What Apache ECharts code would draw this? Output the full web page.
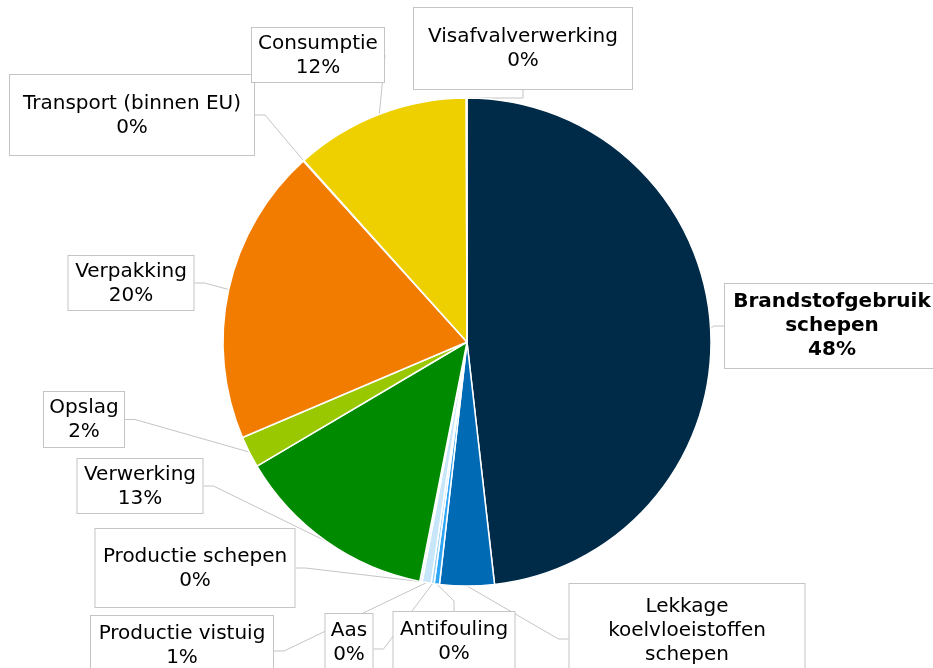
<!DOCTYPE html>
<html>
<head>
<meta charset="utf-8">
<script src="https://cdn.jsdelivr.net/npm/echarts@6/dist/echarts.min.js"></script>
<style>
  html, body { margin: 0; padding: 0; background: #fff; }
  #chart { width: 933px; height: 668px; }
</style>
</head>
<body>
<div id="chart"></div>
<script>
// slices, clockwise from 12 o'clock
const categories = [
  "Brandstofgebruik\nschepen",
  "Lekkage\nkoelvloeistoffen\nschepen",
  "Antifouling",
  "Aas",
  "Productie vistuig",
  "Productie schepen",
  "Verwerking",
  "Opslag",
  "Verpakking",
  "Transport (binnen EU)",
  "Consumptie",
  "Visafvalverwerking",
];
// share of total (%)
const shares = [48.2, 3.6, 0.35, 0.2, 0.6, 0.15, 13.4, 2.1, 19.7, 0.05, 11.6, 0.05];

const colors = [
  "#002b48", "#006ab4", "#2ea6f5", "#95d0f6", "#c8e6fa", "#e2f1fc",
  "#008a00", "#9ac800", "#f27c00", "#e05a00", "#eed000", "#1a3a5a",
];

// callout boxes: [centerX, top, width, height, padTop]
const labelBoxes = [
  [832, 284, 214, 84, 6],
  [687, 584, 235, 110, 11],
  [454, 612, 121, 70, 6],
  [349, 614, 47, 70, 5],
  [182, 616, 182, 70, 6],
  [195, 529, 199, 78, 16],
  [140, 459, 125, 54, 4],
  [84, 392, 80, 55, 4],
  [131, 256, 125, 54, 4],
  [132, 75, 244, 80, 17],
  [318, 28, 132, 54, 4],
  [523, 8, 218, 81, 17],
];

const LINE_H = 24;

const chart = echarts.init(document.getElementById("chart"));

const data = categories.map((name, i) => {
  const box = labelBoxes[i];
  const lines = name.split("\n").length + 1;
  const padBottom = Math.max(box[3] - box[4] - lines * LINE_H, 2);
  return {
    name: name,
    value: shares[i],
    itemStyle: { color: colors[i] },
    label: {
      width: box[2],
      padding: [box[4], 0, padBottom, 0],
      fontWeight: i === 0 ? "bold" : "normal",
    },
  };
});

chart.setOption({
  animation: false,
  series: [
    {
      type: "pie",
      center: [467, 342],
      radius: 244,
      startAngle: 90,
      clockwise: true,
      avoidLabelOverlap: false,
      minShowLabelAngle: 0,
      data: data,
      itemStyle: {
        borderColor: "#fff",
        borderWidth: 1.5,
      },
      emphasis: { disabled: true },
      label: {
        show: true,
        position: "outside",
        formatter: (p) => p.name + "\n" + Math.round(p.percent) + "%",
        fontFamily: "DejaVu Sans",
        fontSize: 20,
        lineHeight: LINE_H,
        color: "#000",
        align: "center",
        backgroundColor: "#fff",
        borderColor: "#c4c4c4",
        borderWidth: 1,
      },
      labelLine: {
        show: true,
        length: 10,
        length2: 10,
        lineStyle: { color: "#c4c4c4", width: 1 },
      },
      labelLayout: (params) => {
        const box = labelBoxes[params.dataIndex];
        return {
          x: box[0],
          y: box[1],
          align: "center",
          verticalAlign: "top",
        };
      },
    },
  ],
});
</script>
</body>
</html>
